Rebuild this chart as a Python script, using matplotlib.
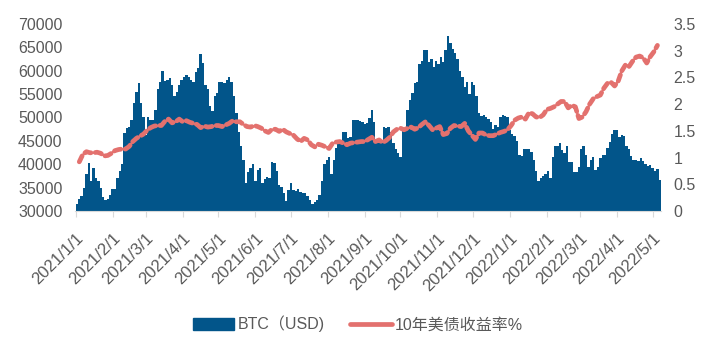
import numpy as np
import pandas as pd
import matplotlib
matplotlib.use("Agg")
import matplotlib.pyplot as plt
from matplotlib.lines import Line2D
from matplotlib.patches import Patch

plt.rcParams['font.family'] = ['Liberation Sans', 'Noto Sans CJK SC', 'DejaVu Sans']

# BTC close (USD), one value every 2 days starting 2021-01-01
btc_start = "2021-01-01"
btc = [
    31500, 32500, 33300, 35000, 38000, 40200, 36500, 39100, 37000, 36500,
    35000, 33000, 32300, 32500, 33500, 34600, 34800, 37000, 38500, 40000,
    46600, 47700, 48000, 49500, 53000, 55500, 57300, 53000, 50200, 46300,
    50000, 49500, 49500, 51500, 56200, 57700, 60000, 57800, 58000, 58400,
    57000, 54500, 55500, 57000, 58000, 58700, 59000, 58700, 58000, 57700,
    59800, 60500, 63500, 61600, 57000, 56200, 52500, 51400, 54500, 55200,
    57700, 57500, 57300, 58000, 58700, 57700, 54500, 51000, 47000, 43800,
    40900, 35900, 38400, 39100, 40000, 36500, 38800, 39100, 35900, 36800,
    37300, 37000, 40500, 40200, 38500, 35500, 35200, 33800, 32200, 34500,
    35900, 34500, 34200, 34800, 34000, 33900, 33800, 33300, 32300, 31600,
    32000, 32300, 33500, 36500, 40000, 41000, 41500, 38000, 40900, 43500,
    44500, 44800, 47000, 46800, 45600, 45800, 49500, 49500, 49500, 49200,
    49000, 48700, 48800, 49800, 51500, 49000, 45200, 44500, 45200, 48000,
    47700, 48000, 46800, 44500, 43300, 42500, 41600, 47700, 47800, 51500,
    53700, 55200, 57300, 57700, 61500, 62000, 64500, 64500, 61800, 62600,
    60900, 62000, 61500, 63000, 61800, 64500, 67400, 65900, 64700, 63800,
    62500, 60000, 58700, 56500, 57700, 55000, 57700, 57000, 54500, 51000,
    50300, 50500, 50000, 49600, 49000, 47500, 48300, 48000, 50000, 50500,
    50400, 50000, 47300, 46500, 46000, 45000, 42000, 41800, 43200, 43200,
    43300, 42600, 41000, 38500, 36500, 37000, 37500, 38000, 38500, 37000,
    41600, 44000, 43800, 44500, 43000, 42300, 44000, 40500, 40500, 38400,
    38400, 39500, 43200, 44000, 42000, 39500, 41000, 41600, 38800, 39500,
    41300, 42000, 42000, 43500, 44700, 46500, 47300, 47300, 45800, 46300,
    46000, 43800, 43300, 41800, 41000, 40900, 40600, 41300, 40600, 40000,
    39600, 39800, 39300, 38500, 39000, 36600,
]

# 10-year US treasury yield (%), one value every 3 days starting 2021-01-04
yld_start = "2021-01-04"
yld = [
    0.92, 1.06, 1.11, 1.09, 1.09, 1.10, 1.08, 1.03, 1.04, 1.08,
    1.13, 1.15, 1.16, 1.16, 1.21, 1.30, 1.36, 1.40, 1.44, 1.51,
    1.56, 1.59, 1.60, 1.60, 1.68, 1.72, 1.65, 1.67, 1.72, 1.67,
    1.69, 1.66, 1.64, 1.62, 1.56, 1.59, 1.57, 1.58, 1.60, 1.60,
    1.58, 1.61, 1.64, 1.69, 1.67, 1.67, 1.62, 1.58, 1.57, 1.60,
    1.58, 1.55, 1.50, 1.47, 1.53, 1.53, 1.49, 1.53, 1.48, 1.45,
    1.42, 1.35, 1.30, 1.36, 1.33, 1.24, 1.20, 1.25, 1.23, 1.20,
    1.17, 1.27, 1.29, 1.30, 1.27, 1.24, 1.27, 1.28, 1.29, 1.30,
    1.30, 1.34, 1.38, 1.30, 1.33, 1.28, 1.32, 1.38, 1.48, 1.53,
    1.55, 1.52, 1.55, 1.57, 1.53, 1.56, 1.62, 1.67, 1.60, 1.52,
    1.55, 1.58, 1.43, 1.45, 1.55, 1.60, 1.59, 1.58, 1.64, 1.50,
    1.42, 1.34, 1.46, 1.46, 1.42, 1.41, 1.41, 1.44, 1.47, 1.49,
    1.52, 1.60, 1.70, 1.74, 1.76, 1.72, 1.84, 1.82, 1.76, 1.75,
    1.80, 1.90, 1.92, 1.95, 2.00, 2.05, 2.05, 1.93, 1.98, 1.95,
    1.73, 1.76, 1.86, 2.00, 2.10, 2.14, 2.17, 2.30, 2.39, 2.41,
    2.34, 2.43, 2.62, 2.73, 2.70, 2.80, 2.88, 2.90, 2.87, 2.77,
    2.89, 2.98, 3.10,
]

tick_labels = ["2021/1/1", "2021/2/1", "2021/3/1", "2021/4/1", "2021/5/1",
               "2021/6/1", "2021/7/1", "2021/8/1", "2021/9/1", "2021/10/1",
               "2021/11/1", "2021/12/1", "2022/1/1", "2022/2/1", "2022/3/1",
               "2022/4/1", "2022/5/1"]

blue = "#02558A"
red = "#E3716E"
grey = "#595959"

t0 = pd.Timestamp("2021-01-01")
btc_x = (pd.date_range(btc_start, periods=len(btc), freq="2D") - t0).days.values
yld_x = (pd.date_range(yld_start, periods=len(yld), freq="3D") - t0).days.values
tick_x = [(pd.Timestamp(s.replace("/", "-")) - t0).days for s in tick_labels]

fig = plt.figure(figsize=(7.09, 3.55), dpi=100)
ax = fig.add_axes([75 / 709, 1 - 211 / 355, 586 / 709, 187 / 355])
ax2 = ax.twinx()

# step area so neighbouring bars touch without seams
bx = np.append(btc_x, btc_x[-1] + 2)
by = np.append(btc, btc[-1])
ax.fill_between(bx, by, 0, step="post", color=blue, linewidth=0, zorder=2)
ax2.plot(yld_x, yld, color=red, lw=3.4, linestyle=(0, (1.4, 0.9)),
         dash_capstyle="round", solid_capstyle="round")

ax.set_ylim(30000, 70000)
ax.set_yticks(np.arange(30000, 70001, 5000))
ax2.set_ylim(0, 3.5)
ax2.set_yticks(np.arange(0, 3.51, 0.5))
ax2.set_yticklabels(["0", "0.5", "1", "1.5", "2", "2.5", "3", "3.5"])
ax.set_xlim(-0.6, 492)

ax.set_xticks(tick_x)
ax.set_xticklabels(tick_labels, rotation=45, ha="right", rotation_mode="anchor")

for a in (ax, ax2):
    for s in a.spines.values():
        s.set_visible(False)
    a.tick_params(axis="y", length=0, pad=9, labelsize=11.5, labelcolor=grey)
ax.spines["bottom"].set_visible(True)
ax.spines["bottom"].set_color("#D9D9D9")
ax.tick_params(axis="x", length=4, color="#D9D9D9", pad=10, labelsize=12, labelcolor=grey)

handles = [Patch(facecolor=blue, edgecolor=blue),
           Line2D([0], [0], color=red, lw=3.4, solid_capstyle="round")]
fig.legend(handles, ["BTC（USD)", "10年美债收益率%"], loc="center",
           bbox_to_anchor=(0.505, 1 - 324 / 355), ncol=2, frameon=False,
           fontsize=11.5, labelcolor=grey, handlelength=2.6, handleheight=0.8,
           handletextpad=0.2, columnspacing=1.6)

fig.savefig("out.png", dpi=100)
